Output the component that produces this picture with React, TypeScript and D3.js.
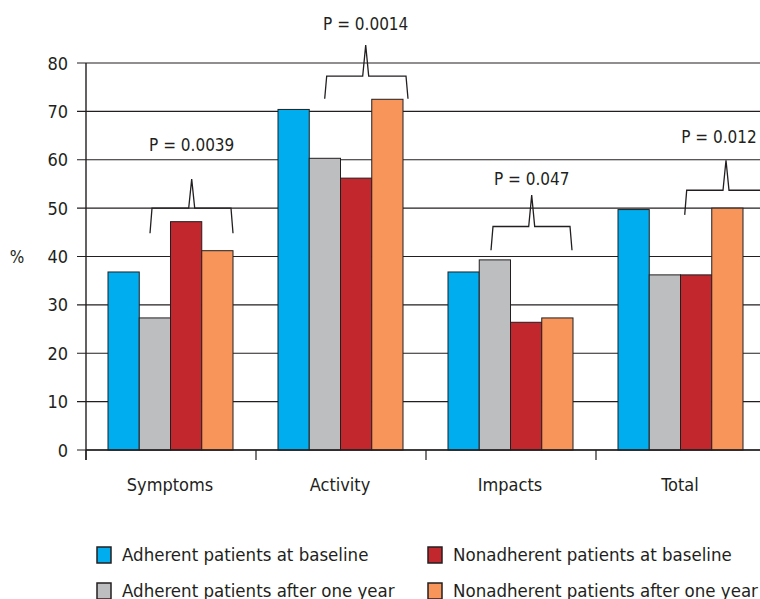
import React from "react";
import * as d3 from "d3";

const categories = ["Symptoms", "Activity", "Impacts", "Total"];
const seriesNames = [
  "Adherent patients at baseline",
  "Adherent patients after one year",
  "Nonadherent patients at baseline",
  "Nonadherent patients after one year",
];
const adherentBaseline = [36.8, 70.4, 36.8, 49.7];
const adherentOneYear = [27.3, 60.3, 39.3, 36.2];
const nonadherentBaseline = [47.2, 56.2, 26.4, 36.2];
const nonadherentOneYear = [41.2, 72.5, 27.3, 50.0];
const yTicks = [0, 10, 20, 30, 40, 50, 60, 70, 80];
const pLabels = ["P = 0.0039", "P = 0.0014", "P = 0.047", "P = 0.012"];
// bracket levels in % units: leg bottom, bar, peak, label baseline
const bracketLegY = [44.8, 72.6, 41.3, 48.6];
const bracketBarY = [50.0, 77.3, 46.2, 53.7];
const bracketPeakY = [56.0, 83.7, 52.7, 59.9];
const bracketLabelY = [61.8, 86.8, 54.8, 63.5];

const colors = ["#00aeef", "#bcbec0", "#c1272d", "#f7955b"];
const stroke = "#231f20";
const font = "'DejaVu Sans Condensed', 'DejaVu Sans', sans-serif";

export default function App() {
  const W = 760, H = 599;
  const x0 = 86;
  const series = [adherentBaseline, adherentOneYear, nonadherentBaseline, nonadherentOneYear];
  const x = d3.scaleBand<string>().domain(categories).range([x0, x0 + 170 * 4]).padding(0);
  const xs = d3.scaleBand<number>().domain([0, 1, 2, 3]).range([22, 147]).padding(0);
  const y = d3.scaleLinear().domain([0, 80]).range([450, 63]);

  // bracket geometry relative to band start
  const bracketX = [
    { l: 66, r: 145, p: 105.7 },
    { l: 70.7, r: 150, p: 109.7 },
    { l: 67, r: 144, p: 105.7 },
    { l: 90.7, r: 170, p: 130 },
  ];
  const labelDx = [0, 0, 0, -7];

  return (
    <svg width={W} height={H} style={{ position: "absolute", left: 0, top: 0 }} fontFamily={font}>
      <rect width={W} height={H} fill="#fff" />
      {/* gridlines */}
      {yTicks.map((t) => (
        <g key={t}>
          <line x1={77} x2={W} y1={y(t)} y2={y(t)} stroke={stroke} strokeWidth={1.2} />
          <text x={68} y={y(t) + 6.5} textAnchor="end" fontSize={18} fill={stroke}>
            {t}
          </text>
        </g>
      ))}
      <text x={17} y={y(40) + 6} textAnchor="middle" fontSize={17} fill={stroke}>%</text>
      {/* bars */}
      {categories.map((c, ci) => (
        <g key={c}>
          {series.map((s, si) => (
            <rect
              key={si}
              x={(x(c) as number) + (xs(si) as number)}
              y={y(s[ci])}
              width={xs.bandwidth()}
              height={y(0) - y(s[ci])}
              fill={colors[si]}
              stroke={stroke}
              strokeWidth={1}
            />
          ))}
        </g>
      ))}
      {/* axes */}
      <line x1={x0} x2={x0} y1={y(80)} y2={460} stroke={stroke} strokeWidth={1.4} />
      <line x1={x0} x2={W} y1={y(0)} y2={y(0)} stroke={stroke} strokeWidth={1.4} />
      {categories.map((c) => (
        <line key={c} x1={x(c) as number} x2={x(c) as number} y1={y(0)} y2={460} stroke={stroke} strokeWidth={1.2} />
      ))}
      {categories.map((c) => (
        <text key={c} x={(x(c) as number) + 84} y={491} textAnchor="middle" fontSize={18} fill={stroke}>
          {c}
        </text>
      ))}
      {/* brackets */}
      {categories.map((c, ci) => {
        const b = x(c) as number;
        const bx = bracketX[ci];
        const l = b + bx.l, r = b + bx.r, p = b + bx.p;
        const yl = y(bracketLegY[ci]), yb = y(bracketBarY[ci]), yp = y(bracketPeakY[ci]);
        const d = `M${l - 2},${yl} L${l},${yb} L${p - 3},${yb} L${p},${yp} L${p + 3},${yb} L${r},${yb} L${r + 2},${yl}`;
        return (
          <g key={c}>
            <path d={d} fill="none" stroke={stroke} strokeWidth={1.3} />
            <text x={p + labelDx[ci]} y={y(bracketLabelY[ci])} textAnchor="middle" fontSize={17} fill={stroke}>
              {pLabels[ci]}
            </text>
          </g>
        );
      })}
      {/* legend */}
      {seriesNames.map((n, i) => {
        const col = i < 2 ? 0 : 1;
        const row = i % 2;
        const lx = col === 0 ? 97 : 428;
        const ly = 547 + row * 36;
        return (
          <g key={n}>
            <rect x={lx} y={ly} width={14} height={16} fill={colors[i]} stroke={stroke} strokeWidth={1.5} />
            <text x={lx + 25} y={ly + 14} fontSize={18.5} fill={stroke}>{n}</text>
          </g>
        );
      })}
    </svg>
  );
}
